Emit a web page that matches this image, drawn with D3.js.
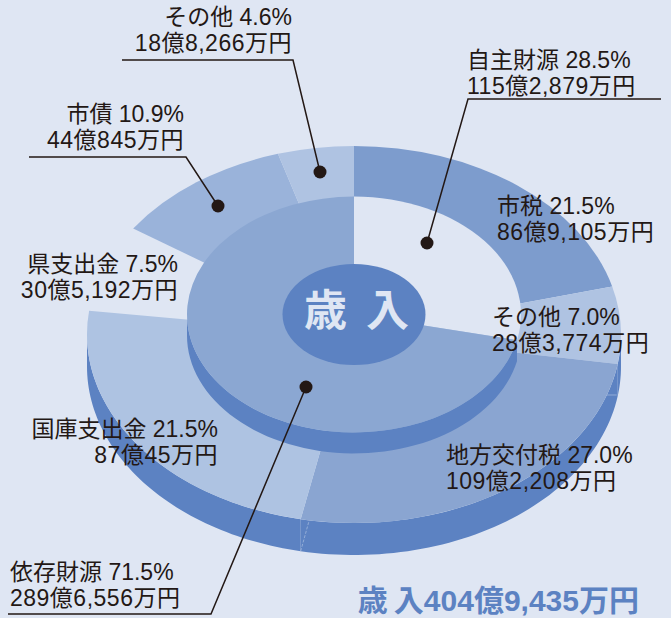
<!DOCTYPE html>
<html>
<head>
<meta charset="utf-8">
<script src="https://cdn.jsdelivr.net/npm/d3@7"></script>
<style>
	html, body { margin: 0; padding: 0; background: #dfe6f3; }
	svg { display: block; }
	text { font-family: "Liberation Sans", "Noto Sans CJK JP", sans-serif; }
</style>
</head>
<body>
<div id="chart"></div>
<script>
// printed labels
const label_names = ["自主財源", "市税", "その他", "地方交付税", "国庫支出金", "県支出金", "市債", "その他", "依存財源"];
const label_pct = ["28.5%", "21.5%", "7.0%", "27.0%", "21.5%", "7.5%", "10.9%", "4.6%", "71.5%"];
const label_yen = ["115億2,879万円", "86億9,105万円", "28億3,774万円", "109億2,208万円", "87億45万円", "30億5,192万円", "44億845万円", "18億8,266万円", "289億6,556万円"];
const label_right = [467, 497, 492, 446, 218, 178, 184, 292, 10];
const label_top = [68, 214, 325, 463, 437, 272, 122, 25, 580];
const label_anchor = ["start", "start", "start", "start", "end", "end", "end", "end", "start"];

// outer ring, slice widths as drawn, clockwise from 12 o'clock (in % of the circle)
const ring_names = ["市税", "その他", "地方交付税", "国庫支出金", "県支出金", "市債", "その他"];
const ring_widths = [20.9, 6.6, 25.7, 23.8, 7.5, 10.9, 4.6];
const ring_colors = ["#7d9ccd", "#afc3e2", "#8aa5d1", "#aec3e2", null, "#9ab3da", "#afc3e2"];

// inner disc: 自主財源 is left out, 依存財源 is the coloured part
const disc_share = [28.5, 71.5];

const width = 671,
	height = 618,
	cx = 354,
	tilt = 0.706,
	ring_cy = 334.5,
	ring_r = 267,
	ring_depth = 32,
	disc_cy = 314.5,
	disc_r = 167,
	disc_depth = 21,
	hub_r = 71.5;

const bg = "#dfe6f3",
	wall_color = "#5c82c2",
	disc_color = "#8ba7d2",
	seam_color = "#a9bfe0",
	ink = "#231815";

const svg = d3
	.select("#chart")
	.append("svg")
	.attr("width", width)
	.attr("height", height);

// % of the circle -> radians
const angle = d3.scaleLinear().domain([0, 100]).range([0, 2 * Math.PI]);

const ring_stack = [];
ring_widths.reduce((sum, w, i) => {
	ring_stack.push({ name: ring_names[i], start: sum, end: sum + w, color: ring_colors[i] });
	return sum + w;
}, 0);

const arc = d3.arc();

const ring_x = (p) => cx + ring_r * Math.sin(angle(p));
const ring_y = (p) => ring_cy - ring_r * tilt * Math.cos(angle(p));

// side wall of an elliptical sector, only the front half shows
function wall_path(start, end, r, cy, depth) {
	const a0 = Math.max(angle(start), Math.PI / 2),
		a1 = Math.min(angle(end), (3 * Math.PI) / 2);
	const steps = d3.range(0, 61).map((i) => a0 + ((a1 - a0) * i) / 60);
	const px = (a) => cx + r * Math.sin(a);
	const py = (a) => cy - r * tilt * Math.cos(a);
	const top = steps.map((a) => [px(a), py(a)]);
	const bottom = steps.map((a) => [px(a), py(a) + depth]).reverse();
	return d3.line()(top.concat(bottom)) + "Z";
}

function sector(g, cy, r0, r, start, end, color) {
	g.append("path")
		.attr("transform", "translate(" + cx + "," + cy + ") scale(1," + tilt + ")")
		.attr("d", arc({ innerRadius: r0, outerRadius: r, startAngle: angle(start), endAngle: angle(end) }))
		.attr("fill", color);
}

// outer ring
const ring = svg.append("g");
ring.selectAll("path.wall")
	.data(ring_stack.filter((d) => d.color && d.end > 25 && d.start < 75))
	.enter()
	.append("path")
	.attr("class", "wall")
	.attr("d", (d) => wall_path(d.start, d.end, ring_r, ring_cy, ring_depth))
	.attr("fill", wall_color);
ring_stack.filter((d) => d.color).forEach((d) => {
	sector(ring, ring_cy, 0, ring_r, d.start, d.end, d.color);
});

// seams on the wall
const seam = ring_stack[2].end;
ring.append("line")
	.attr("x1", ring_x(seam) + 8)
	.attr("y1", ring_y(seam) + 3)
	.attr("x2", ring_x(seam))
	.attr("y2", ring_y(seam) + ring_depth)
	.attr("stroke", seam_color)
	.attr("stroke-width", 0.7)
	.attr("stroke-dasharray", "3 1.5");
const seam2 = ring_stack[1].end;
ring.append("line")
	.attr("x1", ring_x(seam2) - 11)
	.attr("y1", ring_y(seam2) + ring_depth - 1)
	.attr("x2", ring_x(seam2) - 1)
	.attr("y2", ring_y(seam2) + ring_depth - 1)
	.attr("stroke", seam_color)
	.attr("stroke-width", 0.7);

// the 自主財源 part of the disc is cut out
const disc = svg.append("g");
sector(disc, disc_cy, 0, disc_r, 0, disc_share[0], bg);
disc.append("path")
	.attr("d", wall_path(disc_share[0], 100, disc_r, disc_cy, disc_depth))
	.attr("fill", wall_color);
sector(disc, disc_cy, 0, disc_r, disc_share[0], 100, disc_color);

// hub
svg.append("ellipse")
	.attr("cx", cx)
	.attr("cy", disc_cy)
	.attr("rx", hub_r)
	.attr("ry", hub_r * tilt)
	.attr("fill", wall_color);
svg.append("text")
	.attr("x", 304)
	.attr("y", 326)
	.attr("fill", bg)
	.style("font-family", '"Noto Sans CJK JP"')
	.style("font-size", "43px")
	.style("font-weight", 700)
	.style("letter-spacing", "19px")
	.text("歳入");

// labels
const labels = svg.append("g").attr("fill", ink).style("font-size", "23px");
label_names.forEach((name, i) => {
	const t = labels.append("text").attr("text-anchor", label_anchor[i]);
	t.append("tspan")
		.attr("x", label_right[i])
		.attr("y", label_top[i])
		.text(name + " " + label_pct[i]);
	t.append("tspan")
		.attr("x", label_right[i])
		.attr("y", label_top[i] + 26)
		.style("letter-spacing", "0.5px")
		.text(label_yen[i]);
});

// leader lines
const leader_points = [
	[[661, 99], [468, 99], [427, 243]],
	[[29, 157], [186, 157], [218, 206]],
	[[122, 60], [293, 60], [320, 172]],
	[[8, 614], [211, 614], [306, 387]],
];
const leaders = svg.append("g");
leaders.selectAll("path")
	.data(leader_points)
	.enter()
	.append("path")
	.attr("d", (d) => d3.line()(d))
	.attr("fill", "none")
	.attr("stroke", ink)
	.attr("stroke-width", 1.5);
leaders.selectAll("circle")
	.data(leader_points)
	.enter()
	.append("circle")
	.attr("cx", (d) => d[2][0])
	.attr("cy", (d) => d[2][1])
	.attr("r", 6.5)
	.attr("fill", ink);

// total
svg.append("text")
	.attr("x", 639)
	.attr("y", 611)
	.attr("text-anchor", "end")
	.attr("fill", wall_color)
	.style("font-size", "30px")
	.style("font-weight", 700)
	.text("歳\u2009入404億9,435万円");
</script>
</body>
</html>
